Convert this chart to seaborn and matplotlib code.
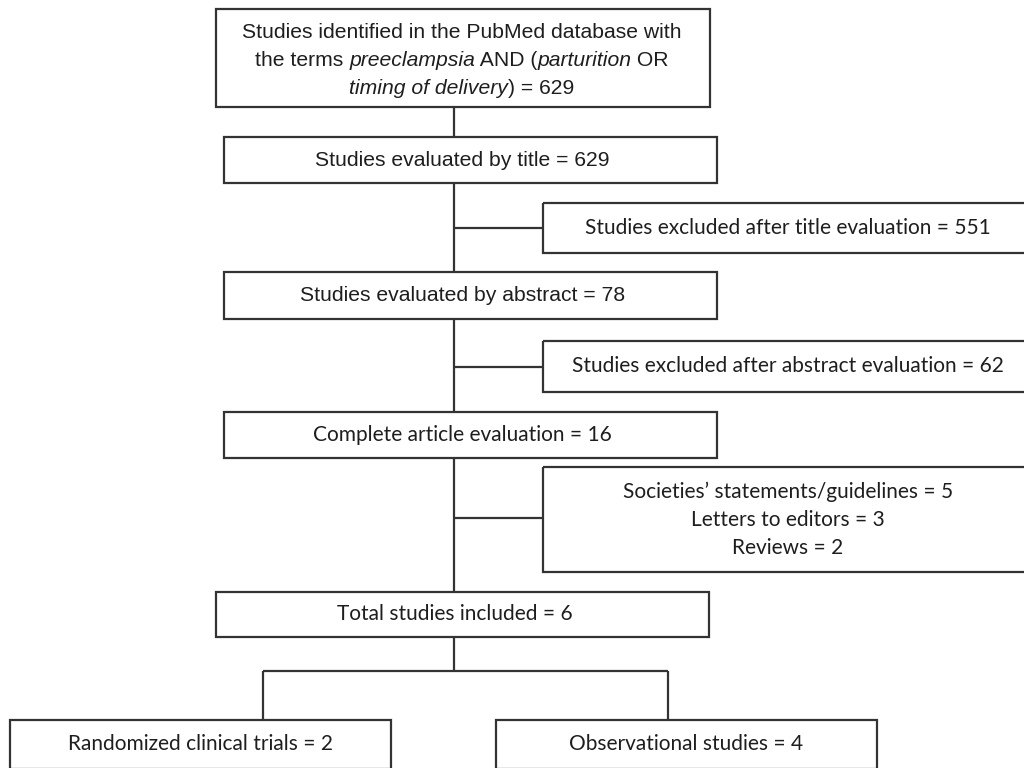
import matplotlib
matplotlib.use("Agg")
import matplotlib.pyplot as plt
import seaborn as sns

# --- Flow data ---
search_lines = [
    [("Studies identified in the PubMed database with", "normal")],
    [("the terms ", "normal"), ("preeclampsia", "italic"), (" AND (", "normal"),
     ("parturition", "italic"), (" OR", "normal")],
    [("timing of delivery", "italic"), (") = 629", "normal")],
]
main_steps = ["Studies evaluated by title", "Studies evaluated by abstract",
              "Complete article evaluation", "Total studies included"]
main_counts = [629, 78, 16, 6]
excluded_steps = ["Studies excluded after title evaluation",
                  "Studies excluded after abstract evaluation"]
excluded_counts = [551, 62]
article_exclusions = ["Societies\u2019 statements/guidelines", "Letters to editors", "Reviews"]
article_exclusion_counts = [5, 3, 2]
study_types = ["Randomized clinical trials", "Observational studies"]
study_type_counts = [2, 4]

ARIAL = "Liberation Sans"
CALIBRI = "Lato"
EDGE = "#333333"
INK = "#1e1e1e"
LW = 1.6

sns.set_theme(style="white")
plt.rcParams["font.family"] = ["Liberation Sans", "DejaVu Sans"]

fig = plt.figure(figsize=(10.24, 7.68), dpi=100)
ax = fig.add_axes([0, 0, 1, 1])
ax.set_xlim(0, 1024)
ax.set_ylim(768, 0)
ax.axis("off")
renderer = fig.canvas.get_renderer()


def box(x0, y0, x1, y1):
    ax.add_patch(plt.Rectangle((x0, y0), x1 - x0, y1 - y0, fill=False,
                               edgecolor=EDGE, linewidth=LW, clip_on=True))


def line(xs, ys):
    ax.plot(xs, ys, color=EDGE, linewidth=LW, solid_capstyle="butt")


def rich_line(xc, baseline, segments, size, family):
    texts = []
    for s, style in segments:
        t = ax.text(0, baseline, s, fontsize=size, family=family, style=style,
                    ha="left", va="baseline", color=INK)
        texts.append(t)
    widths = [t.get_window_extent(renderer).width for t in texts]
    x = xc - sum(widths) / 2
    for t, w in zip(texts, widths):
        t.set_x(x)
        x += w


def label(xc, yc, s, size, family):
    ax.text(xc, yc, s, fontsize=size, family=family, ha="center", va="center", color=INK)


# top search box
box(216, 9, 710, 107)
for base, segs in zip([38, 66, 94], search_lines):
    rich_line(462, base, segs, 15.2, ARIAL)

# main column
main_boxes = [(224, 137, 717, 183), (224, 272, 717, 319),
              (224, 412, 717, 458), (216, 592, 709, 637)]
main_fonts = [ARIAL, ARIAL, CALIBRI, CALIBRI]
main_sizes = [15.2, 15.2, 15, 15]
for (x0, y0, x1, y1), name, n, fam, sz in zip(main_boxes, main_steps, main_counts,
                                              main_fonts, main_sizes):
    box(x0, y0, x1, y1)
    label((x0 + x1) / 2 - 8, (y0 + y1) / 2, f"{name} = {n}", sz, fam)

# spine of the flow
spine_x = 454
line([spine_x, spine_x], [107, 137])
line([spine_x, spine_x], [183, 272])
line([spine_x, spine_x], [319, 412])
line([spine_x, spine_x], [458, 592])
line([spine_x, spine_x], [637, 671])

# exclusion boxes on the right (cut by the image edge)
excl_boxes = [(543, 203, 1033, 253), (543, 341, 1033, 392)]
branch_y = [228, 367]
for (x0, y0, x1, y1), name, n, by in zip(excl_boxes, excluded_steps, excluded_counts, branch_y):
    box(x0, y0, x1, y1)
    line([spine_x, x0], [by, by])
    label(788, (y0 + y1) / 2, f"{name} = {n}", 15, CALIBRI)

box(543, 467, 1033, 572)
line([spine_x, 543], [518, 518])
for yc, name, n in zip([492, 520, 548], article_exclusions, article_exclusion_counts):
    label(788, yc, f"{name} = {n}", 15, CALIBRI)

# split into study types
line([263, 668], [671, 671])
line([263, 263], [671, 720])
line([668, 668], [671, 720])
type_boxes = [(10, 720, 391, 769), (496, 720, 877, 769)]
for (x0, y0, x1, y1), name, n in zip(type_boxes, study_types, study_type_counts):
    box(x0, y0, x1, y1)
    label((x0 + x1) / 2, 744, f"{name} = {n}", 15, CALIBRI)

fig.savefig("out.png", dpi=100, facecolor="white")
